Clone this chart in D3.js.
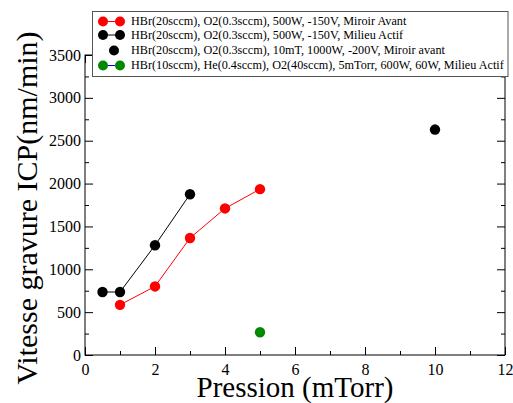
<!DOCTYPE html>
<html>
<head>
<meta charset="utf-8">
<script src="https://cdn.jsdelivr.net/npm/d3@7"></script>
<style>
  html, body { margin: 0; padding: 0; background: #fff; }
  svg { display: block; }
  text { font-family: "Liberation Serif", "Times New Roman", serif; fill: #000; }
</style>
</head>
<body>
<svg id="chart" width="513" height="403"></svg>
<script>
// ---- data ----
const seriesNames = [
  "HBr(20sccm), O2(0.3sccm), 500W, -150V, Miroir Avant",
  "HBr(20sccm), O2(0.3sccm), 500W, -150V, Milieu Actif",
  "HBr(20sccm), O2(0.3sccm), 10mT, 1000W, -200V, Miroir avant",
  "HBr(10sccm), He(0.4sccm), O2(40sccm), 5mTorr, 600W, 60W, Milieu Actif"
];
const redX = [1, 2, 3, 4, 5];
const redY = [585, 800, 1365, 1710, 1935];
const blackX = [0.5, 1, 2, 3];
const blackY = [735, 735, 1280, 1875];
const black3X = [10];
const black3Y = [2630];
const greenX = [5];
const greenY = [265];
const xTicks = [0, 2, 4, 6, 8, 10, 12];
const xMinor = [1, 3, 5, 7, 9, 11];
const yTicks = [0, 500, 1000, 1500, 2000, 2500, 3000, 3500];
const yMinor = [250, 750, 1250, 1750, 2250, 2750, 3250];
const xTitle = "Pression (mTorr)";
const yTitle = "Vitesse gravure ICP(nm/min)";

// ---- layout ----
const L = 85, R = 505, T = 55, B = 355;
const svg = d3.select("#chart");
const x = d3.scaleLinear().domain([0, 12]).range([L, R]);
const y = d3.scaleLinear().domain([0, 3500]).range([B, T]);

// frame
svg.append("rect").attr("x", L).attr("y", T).attr("width", R - L).attr("height", B - T)
  .attr("fill", "none").attr("stroke", "#000").attr("stroke-width", 1);

function styleAxis(g) {
  g.attr("font-family", null);
  g.select(".domain").remove();
  g.selectAll("line").attr("stroke", "#000").attr("stroke-width", 1);
  g.selectAll("text").style("font-family", "Liberation Serif").style("font-size", "16px");
}
// major/minor ticks, pointing inward on all sides
svg.append("g").attr("transform", `translate(0,${B})`)
  .call(d3.axisBottom(x).tickValues(xTicks).tickSizeInner(-8).tickSizeOuter(0).tickPadding(9).tickFormat(d3.format("d")))
  .call(styleAxis);
svg.append("g").attr("transform", `translate(0,${B})`)
  .call(d3.axisBottom(x).tickValues(xMinor).tickSize(-4).tickFormat(""))
  .call(styleAxis);
svg.append("g").attr("transform", `translate(0,${T})`)
  .call(d3.axisTop(x).tickValues(xTicks).tickSize(-8).tickFormat(""))
  .call(styleAxis);
svg.append("g").attr("transform", `translate(0,${T})`)
  .call(d3.axisTop(x).tickValues(xMinor).tickSize(-4).tickFormat(""))
  .call(styleAxis);
svg.append("g").attr("transform", `translate(${L},0)`)
  .call(d3.axisLeft(y).tickValues(yTicks).tickSizeInner(-8).tickSizeOuter(0).tickPadding(4).tickFormat(d3.format("d")))
  .call(styleAxis);
svg.append("g").attr("transform", `translate(${L},0)`)
  .call(d3.axisLeft(y).tickValues(yMinor).tickSize(-4).tickFormat(""))
  .call(styleAxis);
svg.append("g").attr("transform", `translate(${R},0)`)
  .call(d3.axisRight(y).tickValues(yTicks).tickSize(-8).tickFormat(""))
  .call(styleAxis);
svg.append("g").attr("transform", `translate(${R},0)`)
  .call(d3.axisRight(y).tickValues(yMinor).tickSize(-4).tickFormat(""))
  .call(styleAxis);

// axis titles
svg.append("text").attr("x", (L + R) / 2).attr("y", 397).attr("text-anchor", "middle")
  .style("font-size", "29px").text(xTitle);
svg.append("text").attr("transform", `translate(37,${(T + B) / 2 + 3}) rotate(-90)`)
  .attr("text-anchor", "middle").style("font-size", "30px").text(yTitle);

// series
const line = d3.line().x(d => x(d[0])).y(d => y(d[1]));
const series = [
  { xs: redX, ys: redY, color: "#ff0000", lineColor: "#ff0000", line: true },
  { xs: blackX, ys: blackY, color: "#000000", lineColor: "#000000", line: true },
  { xs: black3X, ys: black3Y, color: "#000000", lineColor: null, line: false },
  { xs: greenX, ys: greenY, color: "#008a00", lineColor: "#0000ff", line: true }
];
series.forEach(s => {
  const pts = s.xs.map((v, i) => [v, s.ys[i]]);
  if (s.line && pts.length > 1) {
    svg.append("path").datum(pts).attr("d", line).attr("fill", "none")
      .attr("stroke", s.lineColor).attr("stroke-width", 1);
  }
  svg.append("g").selectAll("circle").data(pts).join("circle")
    .attr("cx", d => x(d[0])).attr("cy", d => y(d[1])).attr("r", 5.2)
    .attr("fill", s.color);
});

// legend
const lg = svg.append("g");
lg.append("rect").attr("x", 92.5).attr("y", 11.5).attr("width", 415.5).attr("height", 65)
  .attr("fill", "#fff").attr("stroke", "#555").attr("stroke-width", 1);
const rowY = [21.5, 35, 50.5, 65.5];
series.forEach((s, i) => {
  const cy = rowY[i];
  if (s.line) {
    lg.append("line").attr("x1", 103).attr("x2", 120).attr("y1", cy).attr("y2", cy)
      .attr("stroke", s.lineColor).attr("stroke-width", 1);
    lg.append("circle").attr("cx", 103).attr("cy", cy).attr("r", 5).attr("fill", s.color);
    lg.append("circle").attr("cx", 120).attr("cy", cy).attr("r", 5).attr("fill", s.color);
  } else {
    lg.append("circle").attr("cx", 114).attr("cy", cy).attr("r", 5).attr("fill", s.color);
  }
  lg.append("text").attr("x", 131).attr("y", cy + 3.8).style("font-size", "12.2px").text(seriesNames[i]);
});
</script>
</body>
</html>
